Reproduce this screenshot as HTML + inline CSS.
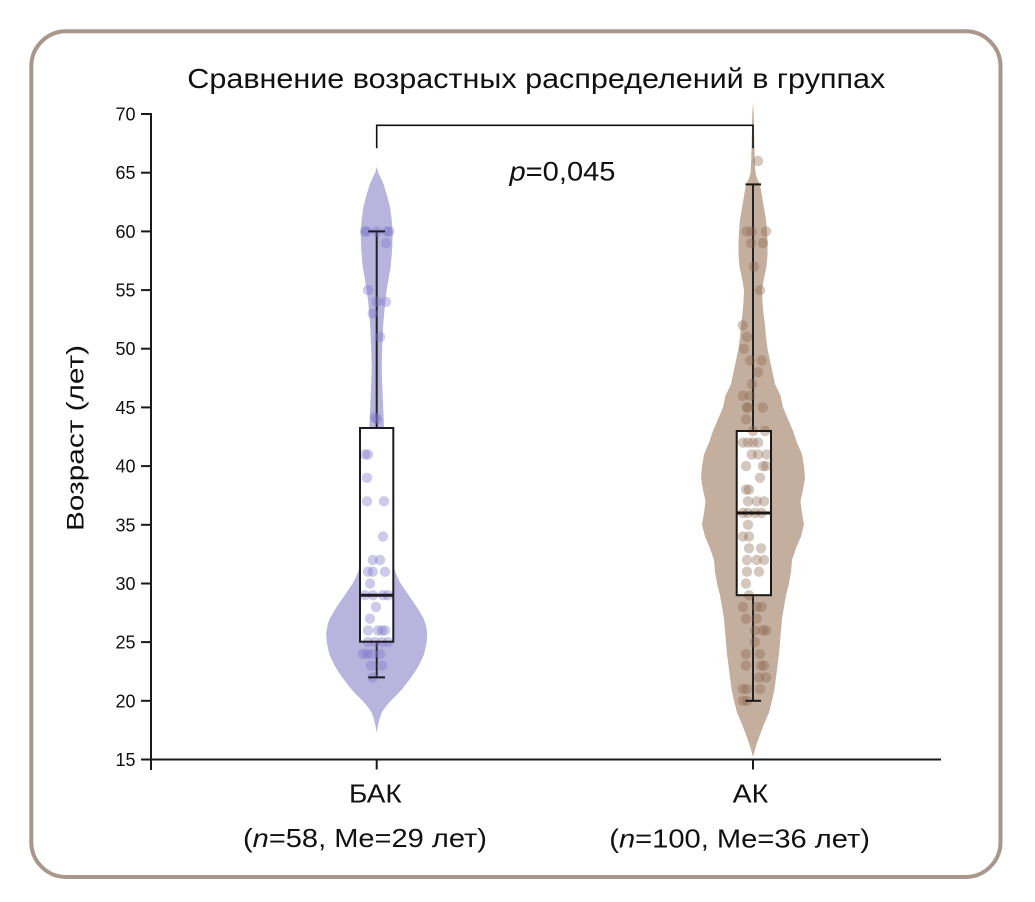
<!DOCTYPE html>
<html>
<head>
<meta charset="utf-8">
<style>
  html,body{margin:0;padding:0;background:#ffffff;}
  svg{display:block;}
  text{font-family:"Liberation Sans","DejaVu Sans",sans-serif;fill:#111;}
</style>
</head>
<body>
<svg width="1035" height="902" viewBox="0 0 1035 902" xmlns="http://www.w3.org/2000/svg">
  <rect x="0" y="0" width="1035" height="902" fill="#ffffff"/>
  <!-- outer rounded frame -->
  <rect x="31.3" y="31.3" width="969.2" height="845.7" rx="35" ry="35" fill="#ffffff" stroke="#a9978c" stroke-width="4"/>

  <!-- title -->
  <text x="187.3" y="88" font-size="28" textLength="698" lengthAdjust="spacingAndGlyphs">Сравнение возрастных распределений в группах</text>

  <!-- violins (data coordinates: x = half-width px, y = age) -->
  <g transform="matrix(1 0 0 -11.736 376.7 935.54)">
    <polygon fill="#b8b4de" points="0,17.3 1.5,18 3,18.5 5,19 9,19.5 14,20 20,20.5 25.5,21 30,21.5 34.5,22 38.5,22.5 42,23 45,23.5 47.5,24 50,25 50.5,25.8 49,26.5 47,27 40,28 32,29 24,30 21,30.5 18.5,31 15,32 12.5,33 11,34 10,35 9,37 8.5,39 8,41 7.5,43 6.5,45 5.5,47 5,48.5 5.5,50 6.5,52 8.5,54 10,55 12,56 14,57 15.5,58.5 16,60 15,61 13.5,62 10.5,63 7,64 4.5,64.5 1.5,65 0,65.5 -1.5,65 -4.5,64.5 -7,64 -10.5,63 -13.5,62 -15,61 -16,60 -15.5,58.5 -14,57 -12,56 -10,55 -8.5,54 -6.5,52 -5.5,50 -5,48.5 -5.5,47 -6.5,45 -7.5,43 -8,41 -8.5,39 -9,37 -10,35 -11,34 -12.5,33 -15,32 -18.5,31 -21,30.5 -24,30 -32,29 -40,28 -47,27 -49,26.5 -50.5,25.8 -50,25 -47.5,24 -45,23.5 -42,23 -38.5,22.5 -34.5,22 -30,21.5 -25.5,21 -20,20.5 -14,20 -9,19.5 -5,19 -3,18.5 -1.5,18"/>
  </g>
  <g transform="matrix(1 0 0 -11.736 753 935.54)">
    <polygon fill="#c4ae9e" points="0,15.2 2.5,16 6.5,17 11,18 16,19 19,20 21.5,21 23,22 24.5,23 26,24 27,25 28,26 29,27 31,28 33,29 36,30 38,31 39,32 43,33 48,34 51,35 49,36 47.5,37 50,38 52,39 51,40 49,41 44,42 40,43 35,44 30,45 27.5,46 22,47 19.5,48 17,49 14.5,50 13,51 12,52 10.5,53 9.5,54 9,55 11,56 13.5,57 14.5,58 14.5,59 14,60 13,61 11,62 9,63 7,64 4,64.5 2.5,65 1.8,66 1.2,68 0.7,70 0,71 -0.7,70 -1.2,68 -1.8,66 -2.5,65 -4,64.5 -7,64 -9,63 -11,62 -13,61 -14,60 -14.5,59 -14.5,58 -13.5,57 -11,56 -9,55 -9.5,54 -10.5,53 -12,52 -13,51 -14.5,50 -17,49 -19.5,48 -22,47 -27.5,46 -30,45 -35,44 -40,43 -44,42 -49,41 -51,40 -52,39 -50,38 -47.5,37 -49,36 -51,35 -48,34 -43,33 -39,32 -38,31 -36,30 -33,29 -31,28 -29,27 -28,26 -27,25 -26,24 -24.5,23 -23,22 -21.5,21 -19,20 -16,19 -11,18 -6.5,17 -2.5,16"/>
  </g>

  <!-- bracket -->
  <polyline points="376.7,148.3 376.7,125.3 753,125.3 753,148.3" fill="none" stroke="#111" stroke-width="1.6"/>
  <text x="509.5" y="180.5" font-size="27" textLength="106" lengthAdjust="spacingAndGlyphs"><tspan font-style="italic">p</tspan>=0,045</text>

  <!-- whiskers -->
  <g stroke="#222" stroke-width="2" fill="none">
    <line x1="376.7" y1="231.4" x2="376.7" y2="677.4"/>
    <line x1="753" y1="184.4" x2="753" y2="700.8"/>
  </g>

  <!-- box fills -->
  <rect x="360" y="428" width="33.3" height="213.7" fill="#ffffff"/>
  <rect x="736.7" y="431" width="34.3" height="164.2" fill="#ffffff"/>

  <!-- dots group 1 -->
  <g fill="rgba(125,115,200,0.38)">
    <circle cx="365" cy="231.4" r="5.2"/><circle cx="367" cy="231.4" r="5.2"/><circle cx="376.7" cy="231.4" r="5.2"/><circle cx="386.7" cy="231.4" r="5.2"/><circle cx="389.3" cy="231.4" r="5.2"/>
    <circle cx="386" cy="243.1" r="5.2"/>
    <circle cx="368" cy="290.1" r="5.2"/>
    <circle cx="376.7" cy="301.8" r="5.2"/><circle cx="386" cy="301.8" r="5.2"/>
    <circle cx="372.7" cy="313.5" r="5.2"/>
    <circle cx="380" cy="337" r="5.2"/>
    <circle cx="377" cy="419.2" r="5.2"/><circle cx="375" cy="417.5" r="5.2"/>
    <circle cx="365" cy="454.4" r="5.2"/><circle cx="368" cy="454.4" r="5.2"/>
    <circle cx="367" cy="477.8" r="5.2"/>
    <circle cx="367" cy="501.3" r="5.2"/><circle cx="384" cy="501.3" r="5.2"/>
    <circle cx="383" cy="536.5" r="5.2"/>
    <circle cx="372.7" cy="560" r="5.2"/><circle cx="380" cy="560" r="5.2"/>
    <circle cx="368" cy="571.7" r="5.2"/><circle cx="372.7" cy="571.7" r="5.2"/><circle cx="385" cy="571.7" r="5.2"/>
    <circle cx="370" cy="583.5" r="5.2"/>
    <circle cx="365" cy="595.2" r="5.2"/><circle cx="373" cy="595.2" r="5.2"/><circle cx="383" cy="595.2" r="5.2"/><circle cx="388" cy="595.2" r="5.2"/>
    <circle cx="376" cy="606.9" r="5.2"/>
    <circle cx="370" cy="618.7" r="5.2"/>
    <circle cx="368" cy="630.4" r="5.2"/><circle cx="378" cy="630.4" r="5.2"/><circle cx="382" cy="630.4" r="5.2"/><circle cx="385" cy="630.4" r="5.2"/>
    <circle cx="368" cy="642.1" r="5.2"/><circle cx="375" cy="642.1" r="5.2"/><circle cx="382" cy="642.1" r="5.2"/><circle cx="388" cy="642.1" r="5.2"/>
    <circle cx="363" cy="653.9" r="5.2"/><circle cx="367" cy="653.9" r="5.2"/><circle cx="372" cy="653.9" r="5.2"/><circle cx="380" cy="653.9" r="5.2"/>
    <circle cx="371" cy="665.6" r="5.2"/><circle cx="382" cy="665.6" r="5.2"/>
    <circle cx="372.7" cy="677.4" r="5.2"/>
  </g>

  <!-- dots group 2 -->
  <g fill="rgba(135,100,75,0.36)">
    <circle cx="758" cy="161" r="5.2"/>
    <circle cx="746.7" cy="231.4" r="5.2"/><circle cx="751.7" cy="231.4" r="5.2"/><circle cx="766" cy="231.4" r="5.2"/>
    <circle cx="751" cy="243.1" r="5.2"/><circle cx="763" cy="243.1" r="5.2"/>
    <circle cx="754" cy="266.6" r="5.2"/>
    <circle cx="760" cy="290.1" r="5.2"/>
    <circle cx="742.7" cy="325.3" r="5.2"/>
    <circle cx="747" cy="337" r="5.2"/>
    <circle cx="744" cy="348.7" r="5.2"/>
    <circle cx="750" cy="360.5" r="5.2"/><circle cx="761.7" cy="360.5" r="5.2"/>
    <circle cx="758" cy="372.2" r="5.2"/>
    <circle cx="752" cy="384" r="5.2"/>
    <circle cx="742.7" cy="395.7" r="5.2"/><circle cx="750" cy="395.7" r="5.2"/>
    <circle cx="746.7" cy="407.4" r="5.2"/><circle cx="748" cy="407.4" r="5.2"/><circle cx="762.7" cy="407.4" r="5.2"/>
    <circle cx="746" cy="419.2" r="5.2"/>
    <circle cx="753" cy="430.9" r="5.2"/><circle cx="765" cy="430.9" r="5.2"/>
    <circle cx="743" cy="442.6" r="5.2"/><circle cx="748" cy="442.6" r="5.2"/><circle cx="753" cy="442.6" r="5.2"/><circle cx="758" cy="442.6" r="5.2"/>
    <circle cx="751.7" cy="454.4" r="5.2"/><circle cx="758" cy="454.4" r="5.2"/><circle cx="766.7" cy="454.4" r="5.2"/>
    <circle cx="746" cy="466.1" r="5.2"/><circle cx="763" cy="466.1" r="5.2"/><circle cx="766" cy="466.1" r="5.2"/>
    <circle cx="760" cy="477.8" r="5.2"/>
    <circle cx="746" cy="489.6" r="5.2"/><circle cx="749" cy="489.6" r="5.2"/>
    <circle cx="748" cy="501.3" r="5.2"/><circle cx="756.7" cy="501.3" r="5.2"/><circle cx="764" cy="501.3" r="5.2"/>
    <circle cx="743" cy="513" r="5.2"/><circle cx="748" cy="513" r="5.2"/><circle cx="755" cy="513" r="5.2"/><circle cx="761.7" cy="513" r="5.2"/>
    <circle cx="748" cy="524.8" r="5.2"/>
    <circle cx="743" cy="536.5" r="5.2"/><circle cx="749" cy="536.5" r="5.2"/>
    <circle cx="749" cy="548.3" r="5.2"/><circle cx="761" cy="548.3" r="5.2"/>
    <circle cx="747" cy="560" r="5.2"/><circle cx="756.7" cy="560" r="5.2"/><circle cx="764" cy="560" r="5.2"/>
    <circle cx="747" cy="571.7" r="5.2"/><circle cx="759" cy="571.7" r="5.2"/>
    <circle cx="746" cy="583.5" r="5.2"/>
    <circle cx="749" cy="595.2" r="5.2"/>
    <circle cx="743" cy="606.9" r="5.2"/><circle cx="756.7" cy="606.9" r="5.2"/><circle cx="761.7" cy="606.9" r="5.2"/>
    <circle cx="746" cy="618.7" r="5.2"/><circle cx="756.7" cy="618.7" r="5.2"/>
    <circle cx="755" cy="630.4" r="5.2"/><circle cx="763" cy="630.4" r="5.2"/><circle cx="766" cy="630.4" r="5.2"/>
    <circle cx="755" cy="642.1" r="5.2"/>
    <circle cx="746" cy="653.9" r="5.2"/><circle cx="760" cy="653.9" r="5.2"/>
    <circle cx="746" cy="665.6" r="5.2"/><circle cx="761" cy="665.6" r="5.2"/><circle cx="764" cy="665.6" r="5.2"/>
    <circle cx="759" cy="677.4" r="5.2"/><circle cx="766" cy="677.4" r="5.2"/>
    <circle cx="742.7" cy="689.1" r="5.2"/><circle cx="747" cy="689.1" r="5.2"/><circle cx="760" cy="689.1" r="5.2"/>
    <circle cx="743" cy="700.8" r="5.2"/><circle cx="747" cy="700.8" r="5.2"/>
  </g>

  <!-- box outlines, medians, caps -->
  <g stroke="#1e1a24" fill="none">
    <rect x="360" y="428" width="33.3" height="213.7" stroke-width="2"/>
    <line x1="360" y1="595.2" x2="393.3" y2="595.2" stroke-width="3"/>
    <line x1="368.3" y1="231.4" x2="385" y2="231.4" stroke-width="2"/>
    <line x1="368.3" y1="677.4" x2="385" y2="677.4" stroke-width="2"/>
  </g>
  <g stroke="#1e1814" fill="none">
    <rect x="736.7" y="431" width="34.3" height="164.2" stroke-width="2"/>
    <line x1="736.7" y1="513" x2="771" y2="513" stroke-width="3"/>
    <line x1="745.5" y1="184.4" x2="761" y2="184.4" stroke-width="2"/>
    <line x1="745.5" y1="700.8" x2="761" y2="700.8" stroke-width="2"/>
  </g>

  <!-- axes -->
  <g stroke="#1a1a1a" stroke-width="2" fill="none">
    <line x1="151" y1="113" x2="151" y2="770"/>
    <line x1="150" y1="759.5" x2="941" y2="759.5"/>
    <line x1="376.7" y1="759.5" x2="376.7" y2="769.5"/>
    <line x1="753" y1="759.5" x2="753" y2="769.5"/>
    <line x1="141" y1="759.5" x2="151" y2="759.5"/>
    <line x1="141" y1="700.8" x2="151" y2="700.8"/>
    <line x1="141" y1="642.1" x2="151" y2="642.1"/>
    <line x1="141" y1="583.5" x2="151" y2="583.5"/>
    <line x1="141" y1="524.8" x2="151" y2="524.8"/>
    <line x1="141" y1="466.1" x2="151" y2="466.1"/>
    <line x1="141" y1="407.4" x2="151" y2="407.4"/>
    <line x1="141" y1="348.7" x2="151" y2="348.7"/>
    <line x1="141" y1="290.1" x2="151" y2="290.1"/>
    <line x1="141" y1="231.4" x2="151" y2="231.4"/>
    <line x1="141" y1="172.7" x2="151" y2="172.7"/>
    <line x1="141" y1="114" x2="151" y2="114"/>
  </g>
  <g font-size="18" text-anchor="end">
    <text x="135.5" y="766">15</text>
    <text x="135.5" y="707.3">20</text>
    <text x="135.5" y="648.6">25</text>
    <text x="135.5" y="590">30</text>
    <text x="135.5" y="531.3">35</text>
    <text x="135.5" y="472.6">40</text>
    <text x="135.5" y="413.9">45</text>
    <text x="135.5" y="355.2">50</text>
    <text x="135.5" y="296.6">55</text>
    <text x="135.5" y="237.9">60</text>
    <text x="135.5" y="179.2">65</text>
    <text x="135.5" y="120.5">70</text>
  </g>

  <!-- y axis title -->
  <text transform="translate(83.5,438) rotate(-90)" x="0" y="0" text-anchor="middle" font-size="24" textLength="186" lengthAdjust="spacingAndGlyphs">Возраст (лет)</text>

  <!-- category labels -->
  <text x="349" y="802.3" font-size="26" textLength="52.7" lengthAdjust="spacingAndGlyphs">БАК</text>
  <text x="243" y="846.8" font-size="26" textLength="244" lengthAdjust="spacingAndGlyphs">(<tspan font-style="italic">n</tspan>=58, Me=29 лет)</text>
  <text x="732.7" y="802.7" font-size="26" textLength="35.6" lengthAdjust="spacingAndGlyphs">АК</text>
  <text x="609.3" y="847.3" font-size="26" textLength="260.7" lengthAdjust="spacingAndGlyphs">(<tspan font-style="italic">n</tspan>=100, Me=36 лет)</text>
</svg>
</body>
</html>
